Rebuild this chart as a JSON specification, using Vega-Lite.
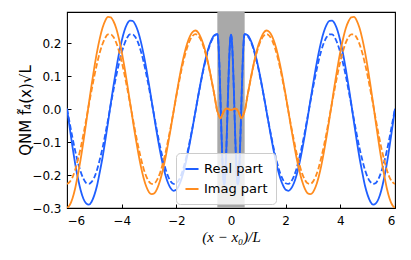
{
  "$schema": "https://vega.github.io/schema/vega-lite/v6.json",
  "autosize": {"type": "none"},
  "width": 328,
  "height": 196,
  "padding": {"left": 67, "top": 12, "right": 16, "bottom": 52},
  "background": "white",
  "config": {
    "font": "DejaVu Sans",
    "view": {"stroke": "#000", "strokeWidth": 1.1},
    "axis": {"domain": false, "grid": false, "ticks": true, "tickSize": -4, "tickColor": "#000", "tickWidth": 1, "labelFontSize": 12, "labelColor": "#000", "labelFont": "DejaVu Sans", "titleColor": "#000", "titleFontWeight": "normal", "labelOverlap": false},
    "axisX": {"labelPadding": 11, "titlePadding": 3, "titleFont": "Liberation Serif", "titleFontStyle": "italic", "titleFontSize": 15},
    "axisY": {"labelPadding": 10, "titlePadding": -2, "titleFontSize": 15}
  },
  "data": {"values": [
    {"x": -6.0, "re": 0.001, "red": 0.001, "im": -0.300, "imd": -0.227},
    {"x": -5.9, "re": -0.057, "red": -0.043, "im": -0.291, "imd": -0.221},
    {"x": -5.8, "re": -0.114, "red": -0.087, "im": -0.271, "imd": -0.207},
    {"x": -5.7, "re": -0.166, "red": -0.127, "im": -0.240, "imd": -0.184},
    {"x": -5.6, "re": -0.210, "red": -0.162, "im": -0.198, "imd": -0.153},
    {"x": -5.5, "re": -0.246, "red": -0.190, "im": -0.152, "imd": -0.118},
    {"x": -5.4, "re": -0.272, "red": -0.211, "im": -0.099, "imd": -0.077},
    {"x": -5.3, "re": -0.286, "red": -0.224, "im": -0.042, "imd": -0.033},
    {"x": -5.2, "re": -0.290, "red": -0.227, "im": 0.017, "imd": 0.013},
    {"x": -5.1, "re": -0.281, "red": -0.221, "im": 0.073, "imd": 0.057},
    {"x": -5.0, "re": -0.261, "red": -0.207, "im": 0.126, "imd": 0.100},
    {"x": -4.9, "re": -0.232, "red": -0.184, "im": 0.174, "imd": 0.138},
    {"x": -4.8, "re": -0.191, "red": -0.153, "im": 0.214, "imd": 0.171},
    {"x": -4.7, "re": -0.147, "red": -0.118, "im": 0.246, "imd": 0.197},
    {"x": -4.6, "re": -0.096, "red": -0.077, "im": 0.268, "imd": 0.216},
    {"x": -4.5, "re": -0.041, "red": -0.033, "im": 0.279, "imd": 0.226},
    {"x": -4.4, "re": 0.016, "red": 0.013, "im": 0.278, "imd": 0.226},
    {"x": -4.3, "re": 0.070, "red": 0.057, "im": 0.266, "imd": 0.218},
    {"x": -4.2, "re": 0.121, "red": 0.100, "im": 0.245, "imd": 0.201},
    {"x": -4.1, "re": 0.167, "red": 0.138, "im": 0.213, "imd": 0.176},
    {"x": -4.0, "re": 0.206, "red": 0.171, "im": 0.174, "imd": 0.144},
    {"x": -3.9, "re": 0.237, "red": 0.197, "im": 0.128, "imd": 0.106},
    {"x": -3.8, "re": 0.258, "red": 0.216, "im": 0.077, "imd": 0.064},
    {"x": -3.7, "re": 0.268, "red": 0.226, "im": 0.023, "imd": 0.020},
    {"x": -3.6, "re": 0.267, "red": 0.226, "im": -0.030, "imd": -0.025},
    {"x": -3.5, "re": 0.256, "red": 0.218, "im": -0.082, "imd": -0.070},
    {"x": -3.4, "re": 0.235, "red": 0.201, "im": -0.130, "imd": -0.111},
    {"x": -3.3, "re": 0.205, "red": 0.176, "im": -0.173, "imd": -0.148},
    {"x": -3.2, "re": 0.167, "red": 0.144, "im": -0.208, "imd": -0.180},
    {"x": -3.1, "re": 0.123, "red": 0.106, "im": -0.235, "imd": -0.204},
    {"x": -3.0, "re": 0.074, "red": 0.064, "im": -0.252, "imd": -0.220},
    {"x": -2.9, "re": 0.023, "red": 0.020, "im": -0.258, "imd": -0.227},
    {"x": -2.8, "re": -0.029, "red": -0.025, "im": -0.255, "imd": -0.225},
    {"x": -2.7, "re": -0.079, "red": -0.070, "im": -0.241, "imd": -0.214},
    {"x": -2.6, "re": -0.125, "red": -0.111, "im": -0.218, "imd": -0.195},
    {"x": -2.5, "re": -0.166, "red": -0.148, "im": -0.187, "imd": -0.167},
    {"x": -2.4, "re": -0.200, "red": -0.180, "im": -0.149, "imd": -0.134},
    {"x": -2.3, "re": -0.225, "red": -0.204, "im": -0.104, "imd": -0.094},
    {"x": -2.2, "re": -0.241, "red": -0.220, "im": -0.057, "imd": -0.052},
    {"x": -2.1, "re": -0.248, "red": -0.227, "im": -0.007, "imd": -0.007},
    {"x": -2.0, "re": -0.245, "red": -0.225, "im": 0.042, "imd": 0.039},
    {"x": -1.9, "re": -0.231, "red": -0.214, "im": 0.089, "imd": 0.082},
    {"x": -1.8, "re": -0.209, "red": -0.195, "im": 0.132, "imd": 0.123},
    {"x": -1.7, "re": -0.179, "red": -0.167, "im": 0.169, "imd": 0.158},
    {"x": -1.6, "re": -0.142, "red": -0.134, "im": 0.199, "imd": 0.187},
    {"x": -1.5, "re": -0.100, "red": -0.094, "im": 0.221, "imd": 0.209},
    {"x": -1.4, "re": -0.054, "red": -0.052, "im": 0.234, "imd": 0.222},
    {"x": -1.3, "re": -0.007, "red": -0.007, "im": 0.238, "imd": 0.227},
    {"x": -1.2, "re": 0.040, "red": 0.039, "im": 0.232, "imd": 0.222},
    {"x": -1.1, "re": 0.085, "red": 0.082, "im": 0.216, "imd": 0.209},
    {"x": -1.0, "re": 0.126, "red": 0.123, "im": 0.193, "imd": 0.187},
    {"x": -0.9, "re": 0.162, "red": 0.158, "im": 0.162, "imd": 0.158},
    {"x": -0.8, "re": 0.191, "red": 0.187, "im": 0.125, "imd": 0.123},
    {"x": -0.7, "re": 0.212, "red": 0.209, "im": 0.083, "imd": 0.082},
    {"x": -0.6, "re": 0.224, "red": 0.222, "im": 0.039, "imd": 0.039},
    {"x": -0.5, "re": 0.227, "red": 0.227, "im": -0.007, "imd": -0.007},
    {"x": -0.475, "re": 0.217, "red": 0.217, "im": -0.012, "imd": -0.012},
    {"x": -0.45, "re": 0.184, "red": 0.184, "im": -0.018, "imd": -0.018},
    {"x": -0.425, "re": 0.134, "red": 0.134, "im": -0.023, "imd": -0.023},
    {"x": -0.4, "re": 0.070, "red": 0.070, "im": -0.027, "imd": -0.027},
    {"x": -0.375, "re": 0.000, "red": 0.000, "im": -0.028, "imd": -0.028},
    {"x": -0.35, "re": -0.070, "red": -0.070, "im": -0.024, "imd": -0.024},
    {"x": -0.325, "re": -0.134, "red": -0.134, "im": -0.019, "imd": -0.019},
    {"x": -0.3, "re": -0.184, "red": -0.184, "im": -0.014, "imd": -0.014},
    {"x": -0.275, "re": -0.217, "red": -0.217, "im": -0.009, "imd": -0.009},
    {"x": -0.25, "re": -0.228, "red": -0.228, "im": -0.005, "imd": -0.005},
    {"x": -0.225, "re": -0.217, "red": -0.217, "im": -0.002, "imd": -0.002},
    {"x": -0.2, "re": -0.184, "red": -0.184, "im": 0.000, "imd": 0.000},
    {"x": -0.175, "re": -0.134, "red": -0.134, "im": 0.001, "imd": 0.001},
    {"x": -0.15, "re": -0.070, "red": -0.070, "im": 0.001, "imd": 0.001},
    {"x": -0.125, "re": 0.000, "red": 0.000, "im": 0.001, "imd": 0.001},
    {"x": -0.1, "re": 0.070, "red": 0.070, "im": 0.000, "imd": 0.000},
    {"x": -0.075, "re": 0.132, "red": 0.132, "im": -0.001, "imd": -0.001},
    {"x": -0.05, "re": 0.182, "red": 0.182, "im": -0.002, "imd": -0.002},
    {"x": -0.025, "re": 0.214, "red": 0.214, "im": -0.003, "imd": -0.003},
    {"x": 0.0, "re": 0.225, "red": 0.225, "im": -0.003, "imd": -0.003},
    {"x": 0.025, "re": 0.214, "red": 0.214, "im": -0.003, "imd": -0.003},
    {"x": 0.05, "re": 0.182, "red": 0.182, "im": -0.002, "imd": -0.002},
    {"x": 0.075, "re": 0.132, "red": 0.132, "im": -0.001, "imd": -0.001},
    {"x": 0.1, "re": 0.070, "red": 0.070, "im": 0.000, "imd": 0.000},
    {"x": 0.125, "re": 0.000, "red": 0.000, "im": 0.001, "imd": 0.001},
    {"x": 0.15, "re": -0.070, "red": -0.070, "im": 0.001, "imd": 0.001},
    {"x": 0.175, "re": -0.134, "red": -0.134, "im": 0.001, "imd": 0.001},
    {"x": 0.2, "re": -0.184, "red": -0.184, "im": 0.000, "imd": 0.000},
    {"x": 0.225, "re": -0.217, "red": -0.217, "im": -0.002, "imd": -0.002},
    {"x": 0.25, "re": -0.228, "red": -0.228, "im": -0.005, "imd": -0.005},
    {"x": 0.275, "re": -0.217, "red": -0.217, "im": -0.009, "imd": -0.009},
    {"x": 0.3, "re": -0.184, "red": -0.184, "im": -0.014, "imd": -0.014},
    {"x": 0.325, "re": -0.134, "red": -0.134, "im": -0.019, "imd": -0.019},
    {"x": 0.35, "re": -0.070, "red": -0.070, "im": -0.024, "imd": -0.024},
    {"x": 0.375, "re": 0.000, "red": 0.000, "im": -0.028, "imd": -0.028},
    {"x": 0.4, "re": 0.070, "red": 0.070, "im": -0.027, "imd": -0.027},
    {"x": 0.425, "re": 0.134, "red": 0.134, "im": -0.023, "imd": -0.023},
    {"x": 0.45, "re": 0.184, "red": 0.184, "im": -0.018, "imd": -0.018},
    {"x": 0.475, "re": 0.217, "red": 0.217, "im": -0.012, "imd": -0.012},
    {"x": 0.5, "re": 0.227, "red": 0.227, "im": -0.007, "imd": -0.007},
    {"x": 0.6, "re": 0.224, "red": 0.222, "im": 0.039, "imd": 0.039},
    {"x": 0.7, "re": 0.212, "red": 0.209, "im": 0.083, "imd": 0.082},
    {"x": 0.8, "re": 0.191, "red": 0.187, "im": 0.125, "imd": 0.123},
    {"x": 0.9, "re": 0.162, "red": 0.158, "im": 0.162, "imd": 0.158},
    {"x": 1.0, "re": 0.126, "red": 0.123, "im": 0.193, "imd": 0.187},
    {"x": 1.1, "re": 0.085, "red": 0.082, "im": 0.216, "imd": 0.209},
    {"x": 1.2, "re": 0.040, "red": 0.039, "im": 0.232, "imd": 0.222},
    {"x": 1.3, "re": -0.007, "red": -0.007, "im": 0.238, "imd": 0.227},
    {"x": 1.4, "re": -0.054, "red": -0.052, "im": 0.234, "imd": 0.222},
    {"x": 1.5, "re": -0.100, "red": -0.094, "im": 0.221, "imd": 0.209},
    {"x": 1.6, "re": -0.142, "red": -0.134, "im": 0.199, "imd": 0.187},
    {"x": 1.7, "re": -0.179, "red": -0.167, "im": 0.169, "imd": 0.158},
    {"x": 1.8, "re": -0.209, "red": -0.195, "im": 0.132, "imd": 0.123},
    {"x": 1.9, "re": -0.231, "red": -0.214, "im": 0.089, "imd": 0.082},
    {"x": 2.0, "re": -0.245, "red": -0.225, "im": 0.042, "imd": 0.039},
    {"x": 2.1, "re": -0.248, "red": -0.227, "im": -0.007, "imd": -0.007},
    {"x": 2.2, "re": -0.241, "red": -0.220, "im": -0.057, "imd": -0.052},
    {"x": 2.3, "re": -0.225, "red": -0.204, "im": -0.104, "imd": -0.094},
    {"x": 2.4, "re": -0.200, "red": -0.180, "im": -0.149, "imd": -0.134},
    {"x": 2.5, "re": -0.166, "red": -0.148, "im": -0.187, "imd": -0.167},
    {"x": 2.6, "re": -0.125, "red": -0.111, "im": -0.218, "imd": -0.195},
    {"x": 2.7, "re": -0.079, "red": -0.070, "im": -0.241, "imd": -0.214},
    {"x": 2.8, "re": -0.029, "red": -0.025, "im": -0.255, "imd": -0.225},
    {"x": 2.9, "re": 0.023, "red": 0.020, "im": -0.258, "imd": -0.227},
    {"x": 3.0, "re": 0.074, "red": 0.064, "im": -0.252, "imd": -0.220},
    {"x": 3.1, "re": 0.123, "red": 0.106, "im": -0.235, "imd": -0.204},
    {"x": 3.2, "re": 0.167, "red": 0.144, "im": -0.208, "imd": -0.180},
    {"x": 3.3, "re": 0.205, "red": 0.176, "im": -0.173, "imd": -0.148},
    {"x": 3.4, "re": 0.235, "red": 0.201, "im": -0.130, "imd": -0.111},
    {"x": 3.5, "re": 0.256, "red": 0.218, "im": -0.082, "imd": -0.070},
    {"x": 3.6, "re": 0.267, "red": 0.226, "im": -0.030, "imd": -0.025},
    {"x": 3.7, "re": 0.268, "red": 0.226, "im": 0.023, "imd": 0.020},
    {"x": 3.8, "re": 0.258, "red": 0.216, "im": 0.077, "imd": 0.064},
    {"x": 3.9, "re": 0.237, "red": 0.197, "im": 0.128, "imd": 0.106},
    {"x": 4.0, "re": 0.206, "red": 0.171, "im": 0.174, "imd": 0.144},
    {"x": 4.1, "re": 0.167, "red": 0.138, "im": 0.213, "imd": 0.176},
    {"x": 4.2, "re": 0.121, "red": 0.100, "im": 0.245, "imd": 0.201},
    {"x": 4.3, "re": 0.070, "red": 0.057, "im": 0.266, "imd": 0.218},
    {"x": 4.4, "re": 0.016, "red": 0.013, "im": 0.278, "imd": 0.226},
    {"x": 4.5, "re": -0.041, "red": -0.033, "im": 0.279, "imd": 0.226},
    {"x": 4.6, "re": -0.096, "red": -0.077, "im": 0.268, "imd": 0.216},
    {"x": 4.7, "re": -0.147, "red": -0.118, "im": 0.246, "imd": 0.197},
    {"x": 4.8, "re": -0.191, "red": -0.153, "im": 0.214, "imd": 0.171},
    {"x": 4.9, "re": -0.232, "red": -0.184, "im": 0.174, "imd": 0.138},
    {"x": 5.0, "re": -0.261, "red": -0.207, "im": 0.126, "imd": 0.100},
    {"x": 5.1, "re": -0.281, "red": -0.221, "im": 0.073, "imd": 0.057},
    {"x": 5.2, "re": -0.290, "red": -0.227, "im": 0.017, "imd": 0.013},
    {"x": 5.3, "re": -0.286, "red": -0.224, "im": -0.042, "imd": -0.033},
    {"x": 5.4, "re": -0.272, "red": -0.211, "im": -0.099, "imd": -0.077},
    {"x": 5.5, "re": -0.246, "red": -0.190, "im": -0.152, "imd": -0.118},
    {"x": 5.6, "re": -0.210, "red": -0.162, "im": -0.198, "imd": -0.153},
    {"x": 5.7, "re": -0.166, "red": -0.127, "im": -0.240, "imd": -0.184},
    {"x": 5.8, "re": -0.114, "red": -0.087, "im": -0.271, "imd": -0.207},
    {"x": 5.9, "re": -0.057, "red": -0.043, "im": -0.291, "imd": -0.221},
    {"x": 6.0, "re": 0.001, "red": 0.001, "im": -0.300, "imd": -0.227}
  ]},
  "layer": [
    {
      "data": {"values": [{"a": -0.5, "b": 0.5}]},
      "mark": {"type": "rect", "color": "#a9a9a9"},
      "encoding": {
        "x": {"field": "a", "type": "quantitative", "scale": {"domain": [-6, 6], "nice": false, "zero": false},
              "axis": {"values": [-6, -4, -2, 0, 2, 4, 6], "title": "(x − x₀)/L"}},
        "x2": {"field": "b"}
      }
    },
    {
      "mark": {"type": "line", "strokeWidth": 1.8, "clip": true, "interpolate": "monotone"},
      "encoding": {
        "x": {"field": "x", "type": "quantitative", "axis": {"values": [-6, -4, -2, 0, 2, 4, 6], "title": "(x − x₀)/L"}},
        "y": {"field": "re", "type": "quantitative", "scale": {"domain": [-0.3, 0.294], "nice": false, "zero": false},
              "axis": {"values": [-0.3, -0.2, -0.1, 0, 0.1, 0.2], "format": ".1f", "title": "QNM f̃₄(x)√L"}},
        "color": {"datum": "Real part", "type": "nominal", "scale": {"domain": ["Real part", "Imag part"], "range": ["#1f5fff", "#ff8c1f"]},
                  "legend": {"title": null, "orient": "none", "legendX": 109, "legendY": 141, "symbolType": "stroke", "symbolStrokeWidth": 2, "symbolSize": 170, "labelFontSize": 13, "labelFont": "DejaVu Sans", "labelColor": "#000", "labelExpr": "datum.label + '\u2003'", "fillColor": "rgba(255,255,255,0.8)", "strokeColor": "#cccccc", "cornerRadius": 4, "padding": 8, "rowPadding": 5, "labelOffset": 4}}
      }
    },
    {
      "mark": {"type": "line", "strokeWidth": 1.8, "clip": true, "interpolate": "monotone", "strokeDash": [5.5, 2.5], "color": "#1f5fff"},
      "encoding": {
        "x": {"field": "x", "type": "quantitative", "axis": {"values": [-6, -4, -2, 0, 2, 4, 6], "title": "(x − x₀)/L"}},
        "y": {"field": "red", "type": "quantitative", "axis": {"values": [-0.3, -0.2, -0.1, 0, 0.1, 0.2], "format": ".1f", "title": "QNM f̃₄(x)√L"}}
      }
    },
    {
      "mark": {"type": "line", "strokeWidth": 1.8, "clip": true, "interpolate": "monotone"},
      "encoding": {
        "x": {"field": "x", "type": "quantitative", "axis": {"values": [-6, -4, -2, 0, 2, 4, 6], "title": "(x − x₀)/L"}},
        "y": {"field": "im", "type": "quantitative", "axis": {"values": [-0.3, -0.2, -0.1, 0, 0.1, 0.2], "format": ".1f", "title": "QNM f̃₄(x)√L"}},
        "color": {"datum": "Imag part", "type": "nominal"}
      }
    },
    {
      "mark": {"type": "line", "strokeWidth": 1.8, "clip": true, "interpolate": "monotone", "strokeDash": [5.5, 2.5], "color": "#ff8c1f"},
      "encoding": {
        "x": {"field": "x", "type": "quantitative", "axis": {"values": [-6, -4, -2, 0, 2, 4, 6], "title": "(x − x₀)/L"}},
        "y": {"field": "imd", "type": "quantitative", "axis": {"values": [-0.3, -0.2, -0.1, 0, 0.1, 0.2], "format": ".1f", "title": "QNM f̃₄(x)√L"}}
      }
    }
  ]
}
